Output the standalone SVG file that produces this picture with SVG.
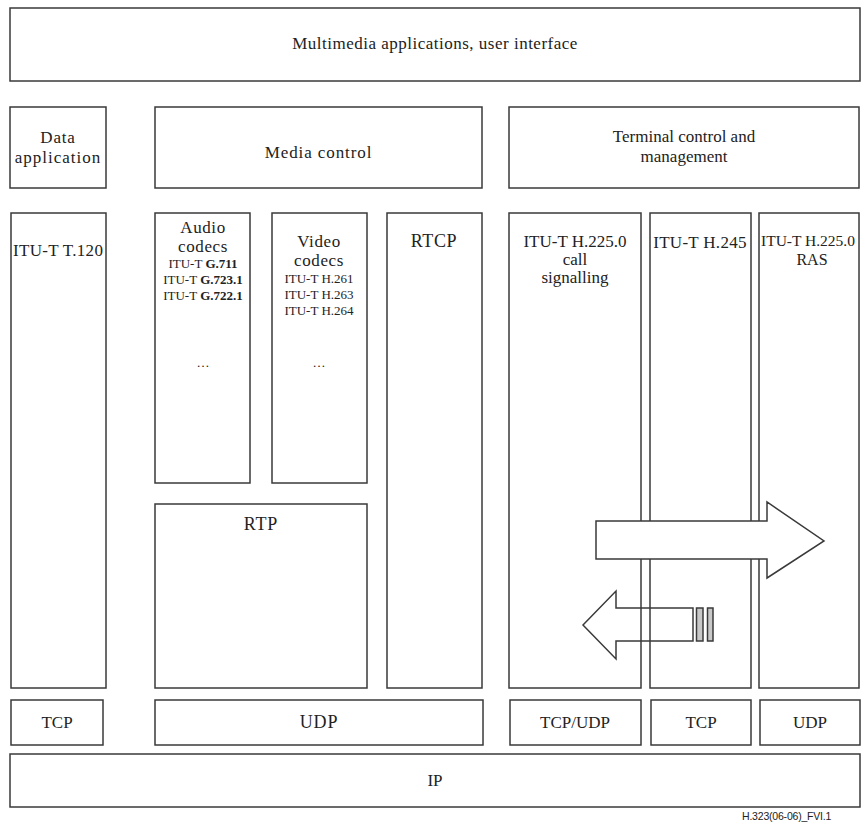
<svg xmlns="http://www.w3.org/2000/svg" width="861" height="825" viewBox="0 0 861 825">
<style>
  .box { fill: #ffffff; stroke: #3a3a3a; stroke-width: 1.5; }
  .t { font-family: 'Liberation Serif', 'Times New Roman', serif; font-size: 17px; fill: #222; text-anchor: middle; }
  .big { font-size: 17px; letter-spacing: 0.6px; }
  .sm { font-size: 13px; }
  .b { font-weight: bold; }
  .cap { font-family: 'Liberation Sans', Arial, sans-serif; font-size: 10.5px; fill: #222; letter-spacing: -0.2px; }
  .arrow { stroke: #3a3a3a; stroke-width: 1.5; }
</style>
<rect x="0" y="0" width="861" height="825" fill="#ffffff"/>

<g id="app-ui">
  <rect class="box" x="10" y="8" width="850" height="73"/>
  <text class="t" x="435" y="49" style="letter-spacing:0.5px">Multimedia applications, user interface</text>
</g>

<g id="data-application">
  <rect class="box" x="10" y="107" width="96" height="81"/>
  <text class="t" x="58" y="143" style="letter-spacing:0.8px">Data</text>
  <text class="t" x="58" y="163" style="letter-spacing:1px">application</text>
</g>
<g id="media-control">
  <rect class="box" x="155" y="107" width="327" height="81"/>
  <text class="t" x="318.5" y="158" style="letter-spacing:0.9px">Media control</text>
</g>
<g id="terminal-control">
  <rect class="box" x="509" y="107" width="350" height="81"/>
  <text class="t" x="684" y="142">Terminal control and</text>
  <text class="t" x="684" y="162">management</text>
</g>

<g id="t120">
  <rect class="box" x="11" y="213" width="95" height="475"/>
  <text class="t" x="13" y="256" style="text-anchor:start;letter-spacing:0.3px">ITU-T T.120</text>
</g>
<g id="audio-codecs">
  <rect class="box" x="155" y="213" width="95" height="270"/>
  <text class="t big" x="203" y="233">Audio</text>
  <text class="t big" x="203" y="252">codecs</text>
  <text class="t sm" x="203" y="268">ITU-T <tspan class="b">G.711</tspan></text>
  <text class="t sm" x="203" y="284">ITU-T <tspan class="b">G.723.1</tspan></text>
  <text class="t sm" x="203" y="300">ITU-T <tspan class="b">G.722.1</tspan></text>
  <text class="t sm" x="203" y="367">…</text>
</g>
<g id="video-codecs">
  <rect class="box" x="272" y="213" width="95" height="270"/>
  <text class="t big" x="319" y="247">Video</text>
  <text class="t big" x="319" y="266">codecs</text>
  <text class="t sm" x="319" y="283">ITU-T H.261</text>
  <text class="t sm" x="319" y="299">ITU-T H.263</text>
  <text class="t sm" x="319" y="315">ITU-T H.264</text>
  <text class="t sm" x="319" y="367">…</text>
</g>
<g id="rtp">
  <rect class="box" x="155" y="504" width="212" height="184"/>
  <text class="t" x="261" y="530" style="font-size:18px;letter-spacing:0.8px">RTP</text>
</g>
<g id="rtcp">
  <rect class="box" x="387" y="213" width="95" height="475"/>
  <text class="t" x="434" y="247" style="font-size:18px;letter-spacing:0.6px">RTCP</text>
</g>
<g id="h2250-call">
  <rect class="box" x="509" y="213" width="132" height="475"/>
  <text class="t" x="575" y="247">ITU-T H.225.0</text>
  <text class="t" x="575" y="265">call</text>
  <text class="t" x="575" y="283">signalling</text>
</g>
<g id="h245">
  <rect class="box" x="650" y="213" width="101" height="475"/>
  <text class="t" x="700" y="248" style="letter-spacing:0.3px">ITU-T H.245</text>
</g>
<g id="h2250-ras">
  <rect class="box" x="759" y="213" width="100" height="475"/>
  <text class="t" x="761" y="246" style="text-anchor:start;font-size:15.5px">ITU-T H.225.0</text>
  <text class="t" x="812" y="265" style="font-size:16px">RAS</text>
</g>

<g id="tcp1">
  <rect class="box" x="11" y="700" width="92" height="45"/>
  <text class="t" x="57" y="728">TCP</text>
</g>
<g id="udp1">
  <rect class="box" x="155" y="700" width="328" height="45"/>
  <text class="t" x="319" y="728" style="font-size:18px;letter-spacing:0.8px">UDP</text>
</g>
<g id="tcpudp">
  <rect class="box" x="510" y="700" width="131" height="45"/>
  <text class="t" x="575" y="728">TCP/UDP</text>
</g>
<g id="tcp2">
  <rect class="box" x="651" y="700" width="100" height="45"/>
  <text class="t" x="701" y="728">TCP</text>
</g>
<g id="udp2">
  <rect class="box" x="760" y="700" width="100" height="45"/>
  <text class="t" x="810" y="728">UDP</text>
</g>
<g id="ip">
  <rect class="box" x="10" y="754" width="850" height="53"/>
  <text class="t" x="435" y="786">IP</text>
</g>

<g id="connectors">
  <polygon class="arrow" fill="#ffffff" points="596,521 767,521 767,502 824,541 767,578 767,559 596,559"/>
  <polygon class="arrow" fill="none" points="583,625 616,591 616,608 693,608 693,641 616,641 616,659"/>
  <rect class="arrow" fill="#c8c8c8" x="696.5" y="608" width="6.5" height="33"/>
  <rect class="arrow" fill="#c8c8c8" x="707.5" y="608" width="5.5" height="33"/>
</g>

<text class="cap" x="742" y="820">H.323(06-06)_FVI.1</text>
</svg>
